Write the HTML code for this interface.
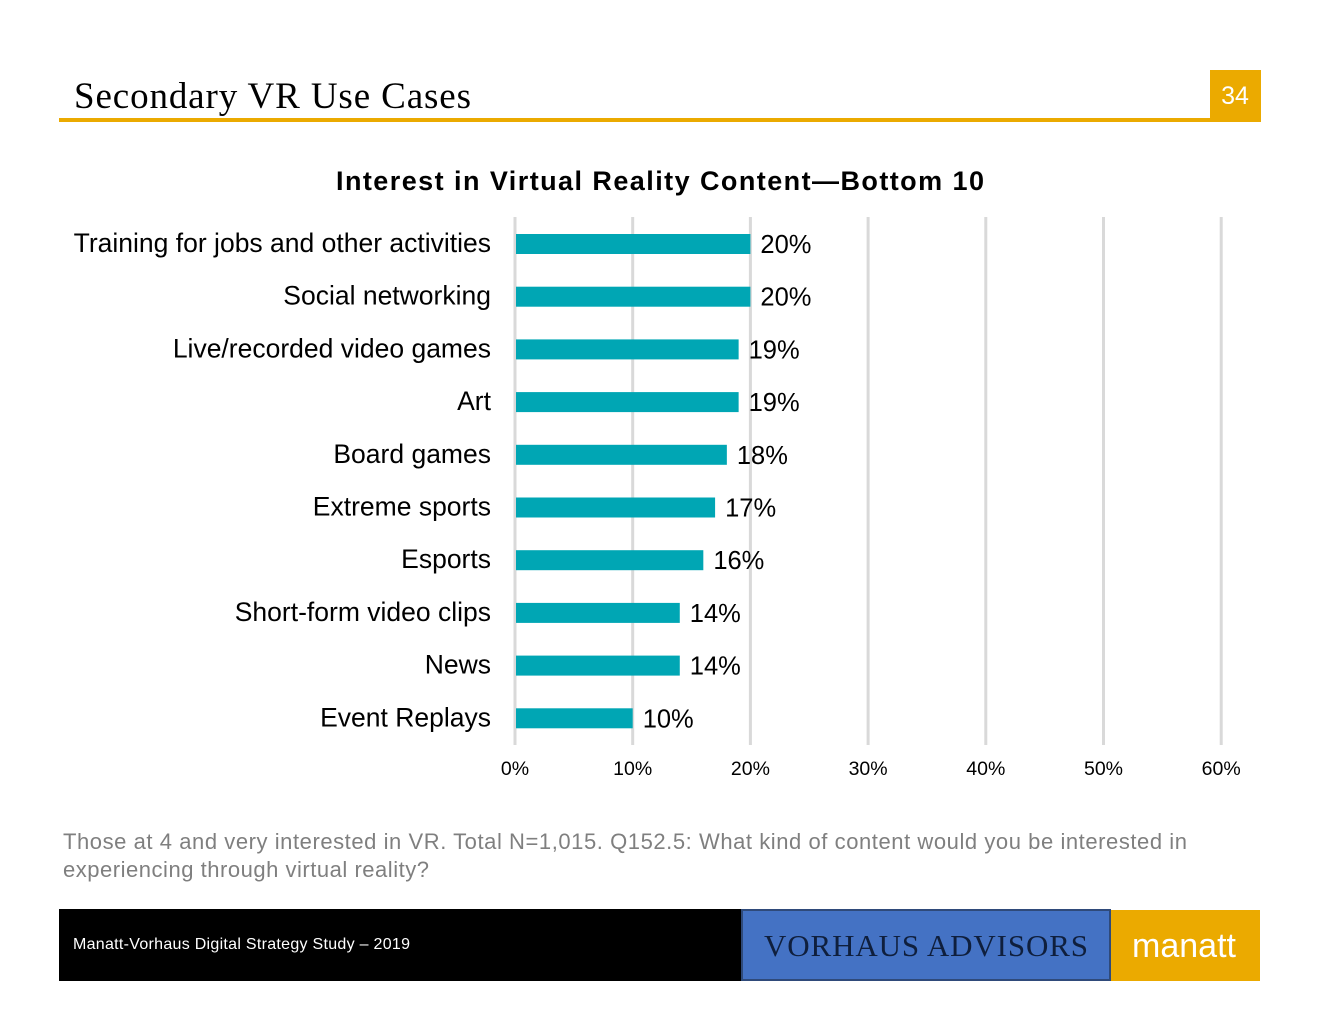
<!DOCTYPE html>
<html><head><meta charset="utf-8"><style>
html,body{margin:0;padding:0;background:#fff;}
svg{display:block;font-family:"Liberation Sans",Arial,sans-serif;}
</style></head><body>
<svg id="chart" width="1320" height="1020" viewBox="0 0 1320 1020">
<text x="74" y="108" font-family="Liberation Serif,serif" font-size="37" fill="#000" textLength="397">Secondary VR Use Cases</text>
<rect x="59" y="118" width="1202" height="4" fill="#ebaa00"/>
<rect x="1210" y="70" width="51" height="52" fill="#ebaa00"/>
<text x="1235" y="104" font-size="25" fill="#fff" text-anchor="middle">34</text>
<text x="660" y="190" font-size="27" font-weight="bold" text-anchor="middle" textLength="648">Interest in Virtual Reality Content—Bottom 10</text>
<g id="grid"></g><g id="bars"></g>
<text x="63" y="849" font-size="22" fill="#7f7f7f" textLength="1124">Those at 4 and very interested in VR. Total N=1,015. Q152.5: What kind of content would you be interested in</text>
<text x="63" y="877" font-size="22" fill="#7f7f7f" textLength="366">experiencing through virtual reality?</text>
<rect x="59" y="909" width="683" height="72" fill="#000"/>
<text x="73" y="949" font-size="16" fill="#fff" textLength="337">Manatt-Vorhaus Digital Strategy Study – 2019</text>
<rect x="742" y="910" width="368" height="70" fill="#4472c4" stroke="#2f4a7a" stroke-width="2"/>
<text x="926" y="956" font-family="Liberation Serif,serif" font-size="31" fill="#0f1f3d" text-anchor="middle" textLength="324">VORHAUS ADVISORS</text>
<rect x="1111" y="910" width="149" height="71" fill="#ebaa00"/>
<text x="1184" y="957" font-size="34" fill="#fff" text-anchor="middle">manatt</text>
</svg>
<script>
const categories=["Training for jobs and other activities","Social networking","Live/recorded video games","Art","Board games","Extreme sports","Esports","Short-form video clips","News","Event Replays"];
const values=[20,20,19,19,18,17,16,14,14,10];
const ticks=[0,10,20,30,40,50,60];
const NS="http://www.w3.org/2000/svg";
const x0=515,pxPer=11.77,yTop=217,yBot=745,rowStart=244,rowStep=52.7,barH=20;
const xs=v=>x0+v*pxPer;
const ys=i=>rowStart+i*rowStep;
function mk(t,a,p){const e=document.createElementNS(NS,t);for(const k in a)e.setAttribute(k,a[k]);p.appendChild(e);return e;}
const grid=document.getElementById('grid'),bars=document.getElementById('bars');
ticks.forEach(t=>{
 const l=mk('line',{x1:xs(t),x2:xs(t),y1:yTop,y2:yBot,stroke:'#d9d9d9','stroke-width':3},grid);
 
 
 const tx=mk('text',{x:xs(t),y:775,'font-size':19.5,'text-anchor':'middle'},grid);
 tx.textContent=t+'%';
 
 
});
categories.forEach((c,i)=>{
 const y=ys(i);
 const lb=mk('text',{x:491,y:y+8,'font-size':26.5,'text-anchor':'end'},bars);
 lb.textContent=c;
 
 
 const r=mk('rect',{x:x0+1,y:y-barH/2,width:xs(values[i])-x0-1,height:barH,fill:'#00a6b4'},bars);
 
 
 const v=mk('text',{x:xs(values[i])+10,y:y+9,'font-size':25.5},bars);
 v.textContent=values[i]+'%';
 
 
});
</script>
</body></html>
